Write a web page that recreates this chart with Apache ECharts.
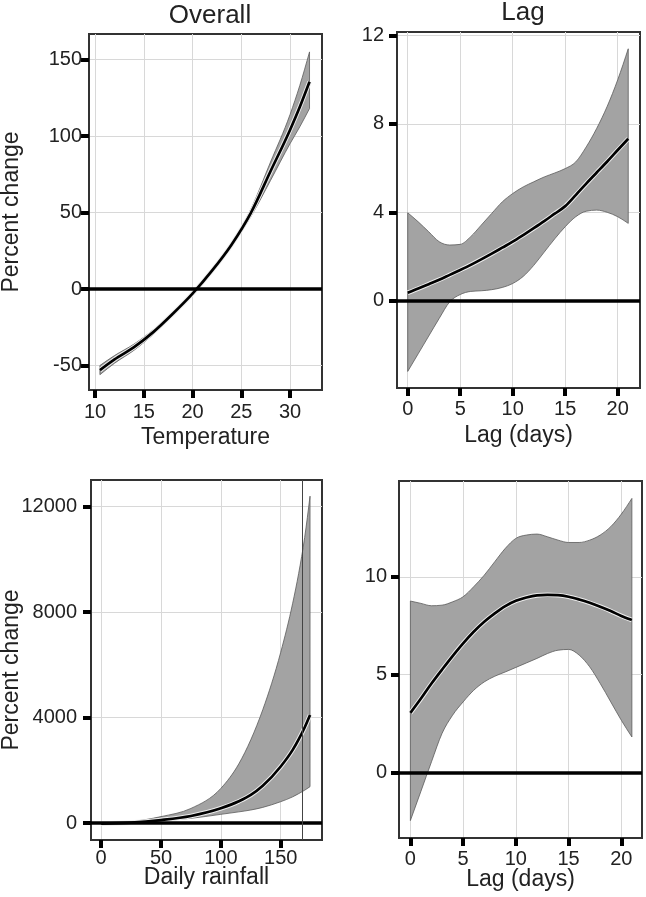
<!DOCTYPE html>
<html>
<head>
<meta charset="utf-8">
<script src="https://cdn.jsdelivr.net/npm/echarts@6/dist/echarts.min.js"></script>
<style>
html,body{margin:0;padding:0;background:#fff;}
#chart{width:646px;height:897px;}
</style>
</head>
<body>
<div id="chart"></div>
<script>
// ---------- Data ----------
// Panel 1: Overall, temperature
const tempX    = [10.5, 12, 14, 16, 18, 20, 22, 24, 26, 28, 30, 31, 32];
const tempFit  = [-53, -46, -38, -28, -16, -3, 12, 29, 50, 77, 104, 119, 135.5];
const tempHigh = [-50, -43.5, -36, -26.5, -15, -2.5, 12.5, 30, 52.5, 83, 114, 133, 155];
const tempLow  = [-56, -48.5, -40, -29.5, -17, -3.5, 11.5, 28, 47.5, 71, 95, 106, 118];

// Panel 2: Lag, temperature
const lag1X    = [0,1,2,3,4,5,6,7,8,9,10,11,12,13,14,15,16,17,18,19,20,21];
const lag1Fit  = [0.36,0.55,0.75,0.95,1.17,1.39,1.62,1.87,2.13,2.4,2.67,2.97,3.28,3.6,3.94,4.28,4.78,5.3,5.8,6.3,6.82,7.33];
const lag1High = [3.98,3.57,3.12,2.67,2.52,2.55,2.9,3.42,3.95,4.47,4.85,5.15,5.38,5.6,5.78,5.98,6.28,6.96,7.8,8.8,10.0,11.4];
const lag1Low  = [-3.2,-2.4,-1.6,-0.8,-0.05,0.28,0.42,0.45,0.5,0.6,0.78,1.1,1.6,2.2,2.8,3.35,3.8,4.05,4.1,4.0,3.8,3.5];

// Panel 3: Overall, daily rainfall
const rainX    = [0, 25, 50, 75, 100, 115, 125, 135, 150, 160, 165, 170, 174.5];
const rainFit  = [-20, 20, 120, 275, 565, 830, 1070, 1420, 2150, 2780, 3180, 3630, 4100];
const rainHigh = [0, 60, 250, 560, 1320, 2250, 3160, 4300, 6480, 8340, 9470, 10830, 12400];
const rainLow  = [-40, 5, 95, 185, 336, 430, 500, 600, 816, 1000, 1120, 1250, 1385];
const rainRefX = 168;

// Panel 4: Lag, rainfall
const lag2X    = [0,1,2,3,4,5,6,7,8,9,10,11,12,13,14,15,16,17,18,19,20,21];
const lag2Fit  = [3.05,3.78,4.55,5.26,5.95,6.6,7.19,7.7,8.13,8.5,8.77,8.94,9.05,9.08,9.06,8.98,8.84,8.67,8.47,8.25,8.0,7.79];
const lag2High = [8.76,8.64,8.52,8.55,8.72,8.98,9.49,10.08,10.77,11.45,11.96,12.13,12.18,12.04,11.87,11.75,11.75,11.87,12.13,12.56,13.2,14.0];
const lag2Low  = [-2.45,-0.95,0.55,2.0,2.93,3.61,4.2,4.63,4.92,5.14,5.37,5.6,5.83,6.08,6.25,6.29,6.0,5.4,4.55,3.61,2.67,1.82];

// Tick labels
const tempTicks    = [10, 15, 20, 25, 30];
const lagTicks     = [0, 5, 10, 15, 20];
const rainTicks    = [0, 50, 100, 150];
const pctTicks1    = [-50, 0, 50, 100, 150];
const lagPctTicks1 = [0, 4, 8, 12];
const rainPctTicks = [0, 4000, 8000, 12000];
const lagPctTicks2 = [0, 5, 10];

const titles = ['Overall', 'Lag'];
const xNames = ['Temperature', 'Lag (days)', 'Daily rainfall', 'Lag (days)'];
const yName  = 'Percent change';

// ---------- Build chart ----------
const FONT = '"Liberation Sans", Arial, sans-serif';
const chart = echarts.init(document.getElementById('chart'), null, {renderer: 'canvas'});

const gridBoxes = [
  {left: 89,  top: 34,  width: 233, height: 356},
  {left: 397, top: 32,  width: 243, height: 356},
  {left: 91,  top: 480, width: 231, height: 360},
  {left: 399, top: 481, width: 243, height: 357}
];
const grids = gridBoxes.map(g => Object.assign({}, g, {
  show: true, borderColor: '#333', borderWidth: 2, backgroundColor: '#fff',
  containLabel: false, outerBoundsMode: 'none'
}));

function axis(gi, min, max, step, ticks, margin, name, nameGap, namePad) {
  const a = {
    type: 'value', gridIndex: gi, min: min, max: max,
    minInterval: step, maxInterval: step,
    axisLine: {show: true, onZero: false, lineStyle: {color: '#333', width: 2}},
    axisTick: {show: true, inside: false, length: 8, customValues: ticks,
               lineStyle: {color: '#000', width: 4}},
    axisLabel: {show: true, customValues: ticks, margin: margin, fontSize: 20, color: '#222',
                fontFamily: FONT, formatter: v => String(v)},
    splitLine: {show: true, lineStyle: {color: '#d8d8d8', width: 1}}
  };
  if (name) {
    a.name = name;
    a.nameLocation = 'middle';
    a.nameGap = nameGap;
    a.nameMoveOverlap = false;
    a.nameTextStyle = {fontSize: 23, color: '#222', fontFamily: FONT, padding: namePad || 0};
  }
  return a;
}

const xAxes = [
  axis(0, 9.38, 33.28, 5, tempTicks, 12, xNames[0], 36),
  axis(1, -1.02, 22.12, 5, lagTicks, 11, xNames[1], 36),
  axis(2, -8.5, 184.5, 50, rainTicks, 8, xNames[2], 26),
  axis(3, -1.08, 21.96, 5, lagTicks, 11, xNames[3], 30)
];
const yAxes = [
  axis(0, -66, 166.7, 50, pctTicks1, 7, yName, 66),
  axis(1, -3.95, 12.16, 4, lagPctTicks1, 13, null, 0),
  axis(2, -637, 13013, 4000, rainPctTicks, 14, yName, 68, [0, 20, 0, 0]),
  axis(3, -3.34, 14.89, 5, lagPctTicks2, 12, null, 0)
];

function pairs(xs, ys) { return xs.map((x, i) => [x, ys[i]]); }

function sgn(v) { return v < 0 ? -1 : 1; }
function tangents(p) {
  const n = p.length, t = new Array(n).fill(0);
  for (let i = 1; i < n - 1; i++) {
    const h0 = p[i][0] - p[i - 1][0], h1 = p[i + 1][0] - p[i][0];
    const s0 = (p[i][1] - p[i - 1][1]) / h0, s1 = (p[i + 1][1] - p[i][1]) / h1;
    const q = (s0 * h1 + s1 * h0) / (h0 + h1);
    t[i] = (sgn(s0) + sgn(s1)) * Math.min(Math.abs(s0), Math.abs(s1), 0.5 * Math.abs(q)) || 0;
  }
  if (n > 1) {
    const hA = p[1][0] - p[0][0], sA = (p[1][1] - p[0][1]) / hA;
    t[0] = n > 2 ? (3 * sA - t[1]) / 2 : sA;
    const hB = p[n - 1][0] - p[n - 2][0], sB = (p[n - 1][1] - p[n - 2][1]) / hB;
    t[n - 1] = n > 2 ? (3 * sB - t[n - 2]) / 2 : sB;
  }
  return t;
}
function f2(v) { return v.toFixed(2); }
function curveSegs(p) {
  const t = tangents(p);
  let d = '';
  for (let i = 0; i < p.length - 1; i++) {
    const h = (p[i + 1][0] - p[i][0]) / 3;
    d += ' C' + f2(p[i][0] + h) + ' ' + f2(p[i][1] + t[i] * h) + ' ' +
         f2(p[i + 1][0] - h) + ' ' + f2(p[i + 1][1] - t[i + 1] * h) + ' ' +
         f2(p[i + 1][0]) + ' ' + f2(p[i + 1][1]);
  }
  return d;
}
function reverseSegs(p) {
  const t = tangents(p);
  let d = '';
  for (let i = p.length - 1; i > 0; i--) {
    const h = (p[i][0] - p[i - 1][0]) / 3;
    d += ' C' + f2(p[i][0] - h) + ' ' + f2(p[i][1] - t[i] * h) + ' ' +
         f2(p[i - 1][0] + h) + ' ' + f2(p[i - 1][1] + t[i - 1] * h) + ' ' +
         f2(p[i - 1][0]) + ' ' + f2(p[i - 1][1]);
  }
  return d;
}
function mv(p) { return f2(p[0]) + ' ' + f2(p[1]); }

function panelSeries(gi, xs, fit, lo, hi, extraMarkLines) {
  const markData = [{yAxis: 0, lineStyle: {color: '#000', width: 3.5, type: 'solid'}}].concat(extraMarkLines || []);
  return [
    {
      type: 'custom', xAxisIndex: gi, yAxisIndex: gi, silent: true, animation: false, clip: true,
      data: [[xs[0], fit[0]]], z: 2,
      renderItem: function (params, api) {
        const up = xs.map((x, i) => api.coord([x, hi[i]]));
        const dn = xs.map((x, i) => api.coord([x, lo[i]]));
        const ft = xs.map((x, i) => api.coord([x, fit[i]]));
        const bandD = 'M' + mv(up[0]) + curveSegs(up) + ' L' + mv(dn[dn.length - 1]) + reverseSegs(dn) + ' Z';
        const fitD = 'M' + mv(ft[0]) + curveSegs(ft);
        return {
          type: 'group',
          children: [
            {type: 'path', shape: {pathData: bandD},
             style: {fill: '#a3a3a3', stroke: '#5a5a5a', lineWidth: 0.8}},
            {type: 'path', shape: {pathData: fitD},
             style: {fill: null, stroke: '#eeeeee', lineWidth: 4.6}},
            {type: 'path', shape: {pathData: fitD},
             style: {fill: null, stroke: '#000', lineWidth: 2.7}}
          ]
        };
      }
    },
    {
      type: 'line', xAxisIndex: gi, yAxisIndex: gi, silent: true, animation: false,
      showSymbol: false, symbol: 'none', data: pairs(xs, fit),
      lineStyle: {opacity: 0, width: 0}, z: 3,
      markLine: {silent: true, symbol: ['none', 'none'], label: {show: false}, animation: false,
                 data: markData}
    }
  ];
}

const series = [].concat(
  panelSeries(0, tempX, tempFit, tempLow, tempHigh),
  panelSeries(1, lag1X, lag1Fit, lag1Low, lag1High),
  panelSeries(2, rainX, rainFit, rainLow, rainHigh,
    [{xAxis: rainRefX, lineStyle: {color: '#444', width: 1, type: 'solid'}}]),
  panelSeries(3, lag2X, lag2Fit, lag2Low, lag2High)
);

const option = {
  animation: false,
  backgroundColor: '#fff',
  title: [
    {text: titles[0], left: 205, top: -2, textAlign: 'center',
     textStyle: {fontSize: 26, fontWeight: 'normal', color: '#222', fontFamily: FONT}},
    {text: titles[1], left: 518, top: -5, textAlign: 'center',
     textStyle: {fontSize: 26, fontWeight: 'normal', color: '#222', fontFamily: FONT}}
  ],
  grid: grids,
  xAxis: xAxes,
  yAxis: yAxes,
  series: series
};
chart.setOption(option);
</script>
</body>
</html>
